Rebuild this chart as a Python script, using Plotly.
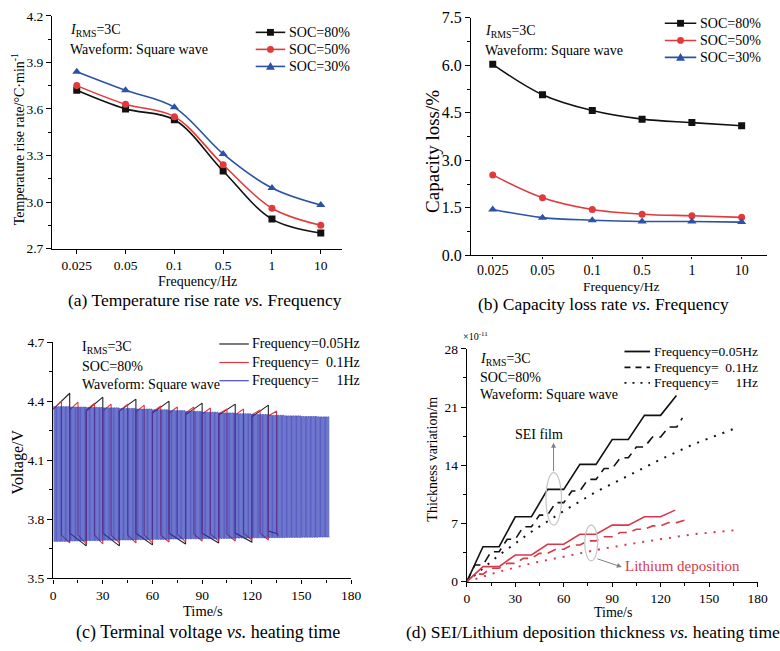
import plotly.graph_objects as go

W, H = 780, 651
FONT = "Liberation Serif, Times New Roman, serif"
BLACK = "#111111"
RED = "#e03a3a"
BLUE = "#2b52a6"
RED_D = "#d8394a"

# ---------------- Panel (a) / (b) data ----------------
freq_labels = ["0.025", "0.05", "0.1", "0.5", "1", "10"]
temp_soc80 = [3.72, 3.60, 3.53, 3.20, 2.89, 2.80]
temp_soc50 = [3.75, 3.63, 3.55, 3.24, 2.96, 2.85]
temp_soc30 = [3.84, 3.72, 3.61, 3.31, 3.09, 2.98]

cap_soc80 = [6.03, 5.07, 4.57, 4.30, 4.19, 4.09]
cap_soc50 = [2.54, 1.82, 1.45, 1.30, 1.25, 1.20]
cap_soc30 = [1.45, 1.19, 1.11, 1.07, 1.07, 1.05]

# ---------------- Panel (c) data (square-wave voltage response) ----------------
# 0.05 Hz: per 20 s cycle -> charge start, charge peak, discharge start, discharge end
v005_charge_start = [4.36, 4.35, 4.35, 4.34, 4.33, 4.33, 4.32]
v005_charge_peak = [4.44, 4.42, 4.41, 4.40, 4.39, 4.385, 4.38]
v005_dis_start = [3.73, 3.73, 3.73, 3.73, 3.73, 3.73, 3.74]
v005_dis_end = [3.665, 3.665, 3.67, 3.675, 3.68, 3.685, 3.725]
v005_period, v005_end = 20, 136
# 0.1 Hz: per 10 s cycle
v01_charge_start = [4.36, 4.355, 4.355, 4.35, 4.35, 4.345, 4.345, 4.34, 4.34, 4.335, 4.335, 4.33, 4.33, 4.325]
v01_charge_peak = [4.40, 4.395, 4.39, 4.385, 4.385, 4.38, 4.375, 4.37, 4.37, 4.365, 4.36, 4.36, 4.355, 4.35]
v01_dis_start = [3.72, 3.72, 3.72, 3.72, 3.72, 3.72, 3.72, 3.725, 3.725, 3.725, 3.725, 3.73, 3.73, 3.73]
v01_dis_end = [3.68, 3.675, 3.675, 3.68, 3.68, 3.68, 3.685, 3.685, 3.69, 3.69, 3.69, 3.695, 3.695, 3.715]
v01_period, v01_end = 10, 136
# 1 Hz: upper / lower voltage levels read per 10 s block
v1_top_blocks = [4.372, 4.370, 4.368, 4.366, 4.363, 4.360, 4.356, 4.352, 4.348,
                 4.344, 4.340, 4.336, 4.332, 4.328, 4.325, 4.322, 4.320]
v1_bot_blocks = [3.688, 3.690, 3.692, 3.694, 3.695, 3.697, 3.698, 3.700, 3.701,
                 3.702, 3.703, 3.705, 3.706, 3.707, 3.708, 3.709, 3.710]
v1_end = 167

# ---------------- Panel (d) data (x1e-11 m) ----------------
sei_005_t = [0, 10, 20, 30, 40, 50, 60, 70, 80, 90, 100, 110, 120, 129.8]
sei_005_v = [0, 4.2, 4.2, 7.8, 7.8, 11.1, 11.1, 14.1, 14.1, 17.1, 17.1, 20.0, 20.0, 22.4]
sei_01_t = [0, 5, 10, 15, 20, 25, 30, 35, 40, 45, 50, 55, 60, 65, 70, 75, 80, 85, 90,
            95, 100, 105, 110, 115, 120, 125, 130, 133.5]
sei_01_v = [0, 2.0, 2.0, 3.6, 3.6, 5.1, 5.1, 6.6, 6.6, 8.0, 8.0, 9.5, 9.5, 10.9, 10.9,
            12.3, 12.3, 13.6, 13.6, 14.9, 14.9, 16.2, 16.2, 17.4, 17.4, 18.6, 18.6, 19.7]
sei_1_t = [0, 20, 40, 60, 80, 100, 120, 140, 167]
sei_1_v = [0, 3.2, 6.0, 8.5, 10.8, 12.8, 14.7, 16.5, 18.5]

li_005_t = [0, 10, 20, 30, 40, 50, 60, 70, 80, 90, 100, 110, 120, 129]
li_005_v = [0, 1.8, 1.8, 3.2, 3.2, 4.5, 4.5, 5.7, 5.7, 6.8, 6.8, 7.8, 7.8, 8.6]
li_01_t = [0, 5, 10, 15, 20, 25, 30, 35, 40, 45, 50, 55, 60, 65, 70, 75, 80, 85, 90,
           95, 100, 105, 110, 115, 120, 125, 130, 135]
li_01_v = [0, 0.9, 0.9, 1.6, 1.6, 2.2, 2.2, 2.8, 2.8, 3.4, 3.4, 3.9, 3.9, 4.4, 4.4,
           4.9, 4.9, 5.4, 5.4, 5.9, 5.9, 6.3, 6.3, 6.7, 6.7, 7.1, 7.1, 7.4]
li_1_t = [0, 20, 40, 60, 80, 100, 120, 140, 167]
li_1_v = [0, 1.2, 2.2, 3.0, 3.8, 4.5, 5.1, 5.7, 6.2]


def square_wave(period, cs, cp, ds, de, t_end):
    xs, ys = [], []
    half = period / 2
    for k in range(len(cs)):
        t0 = k * period
        xs += [t0, t0 + half, t0 + half, min(t0 + period, t_end)]
        ys += [cs[k], cp[k], ds[k], de[k]]
    return xs, ys


def block_wave(top, bot, t_end):
    xs, ys = [], []
    for c in range(t_end):
        b = c // 10
        xs += [c, c + 0.5, c + 0.5, c + 1]
        ys += [top[b], top[b], bot[b], bot[b]]
    return xs, ys


fig = go.Figure()

# (a)
idx = list(range(len(freq_labels)))
for vals, col, sym, sz in [(temp_soc80, BLACK, "square", 7), (temp_soc50, RED, "circle", 7),
                           (temp_soc30, BLUE, "triangle-up", 8)]:
    fig.add_trace(go.Scatter(x=idx, y=vals, mode="lines+markers", xaxis="x", yaxis="y",
                             line=dict(color=col, width=1.6, shape="spline", smoothing=1.0),
                             marker=dict(symbol=sym, size=sz, color=col), showlegend=False))
# (b)
for vals, col, sym, sz in [(cap_soc80, BLACK, "square", 7), (cap_soc50, RED, "circle", 7),
                           (cap_soc30, BLUE, "triangle-up", 8)]:
    fig.add_trace(go.Scatter(x=idx, y=vals, mode="lines+markers", xaxis="x2", yaxis="y2",
                             line=dict(color=col, width=1.6, shape="spline", smoothing=1.0),
                             marker=dict(symbol=sym, size=sz, color=col), showlegend=False))
# (c)
bx, by = square_wave(v005_period, v005_charge_start, v005_charge_peak, v005_dis_start, v005_dis_end, v005_end)
rx, ry = square_wave(v01_period, v01_charge_start, v01_charge_peak, v01_dis_start, v01_dis_end, v01_end)
ux, uy = block_wave(v1_top_blocks, v1_bot_blocks, v1_end)
fig.add_trace(go.Scatter(x=bx, y=by, mode="lines", xaxis="x3", yaxis="y3",
                         line=dict(color="#222222", width=1.1), showlegend=False))
fig.add_trace(go.Scatter(x=rx, y=ry, mode="lines", xaxis="x3", yaxis="y3",
                         line=dict(color="#e0383c", width=1.1), showlegend=False))
fig.add_trace(go.Scatter(x=ux, y=uy, mode="lines", xaxis="x3", yaxis="y3", opacity=0.85,
                         line=dict(color="rgb(40,52,180)", width=0.9), showlegend=False))
# (d)
for t, v, col, dash, wd in [(sei_005_t, sei_005_v, BLACK, "solid", 1.6),
                            (sei_01_t, sei_01_v, BLACK, "9px,6px", 1.6),
                            (sei_1_t, sei_1_v, BLACK, "2px,7px", 2.0),
                            (li_005_t, li_005_v, RED_D, "solid", 1.6),
                            (li_01_t, li_01_v, RED_D, "9px,6px", 1.6),
                            (li_1_t, li_1_v, RED_D, "2px,7px", 2.0)]:
    fig.add_trace(go.Scatter(x=t, y=v, mode="lines", xaxis="x4", yaxis="y4",
                             line=dict(color=col, width=wd, dash=dash), showlegend=False))


def dom_x(a, b):
    return [a / W, b / W]


def dom_y(top, bottom):
    return [1 - bottom / H, 1 - top / H]


def mk_axis(domain, rng, anchor, tickvals=None, ticktext=None, dtick=None, tick0=None,
            minor_dtick=None, fmt=None, fsize=13, ticklen=5):
    ax = dict(domain=domain, range=rng, anchor=anchor, showline=True, linecolor="black",
              linewidth=1.3, ticks="outside", ticklen=ticklen, tickwidth=1.2, tickcolor="black",
              showgrid=False, zeroline=False, fixedrange=True,
              tickfont=dict(family=FONT, size=fsize, color="black"))
    if tickvals is not None:
        ax.update(tickmode="array", tickvals=tickvals, ticktext=ticktext)
    else:
        ax.update(tickmode="linear", tick0=tick0, dtick=dtick)
    if fmt:
        ax["tickformat"] = fmt
    if minor_dtick:
        ax["minor"] = dict(ticks="outside", ticklen=3, tickwidth=1, tickcolor="black",
                           dtick=minor_dtick, tick0=tick0, showgrid=False)
    return ax


layout = dict(
    width=W, height=H, margin=dict(l=0, r=0, t=0, b=0),
    paper_bgcolor="white", plot_bgcolor="white", showlegend=False,
    font=dict(family=FONT, color="black"),
    xaxis=mk_axis(dom_x(50, 345), [-0.504, 5.44], "y", tickvals=idx, ticktext=freq_labels, fsize=13.5, ticklen=4),
    yaxis=mk_axis(dom_y(8, 247), [2.7, 4.2], "x", dtick=0.3, tick0=2.7, minor_dtick=0.15, fmt=".1f", fsize=13.5),
    xaxis2=mk_axis(dom_x(476, 777), [-0.435, 5.51], "y2", tickvals=idx, ticktext=freq_labels, fsize=14, ticklen=2),
    yaxis2=mk_axis(dom_y(10, 254), [0, 7.5], "x2", dtick=1.5, tick0=0, minor_dtick=0.75, fmt=".1f", fsize=16),
    xaxis3=mk_axis(dom_x(51, 354), [0, 180], "y3", dtick=30, tick0=0, minor_dtick=15, fsize=13.5, ticklen=4),
    yaxis3=mk_axis(dom_y(343, 585.7), [3.5, 4.7], "x3", dtick=0.3, tick0=3.5, minor_dtick=0.15, fmt=".1f", fsize=13.5),
    xaxis4=mk_axis(dom_x(471.7, 767.3), [0, 180], "y4", dtick=30, tick0=0, minor_dtick=15, fsize=13.5, ticklen=4),
    yaxis4=mk_axis(dom_y(350, 589), [0, 28], "x4", dtick=7, tick0=0, minor_dtick=3.5, fsize=13.5),
)

shapes = []
annotations = []


def px(x, y):
    return x / W, 1 - y / H


def text_px(x, y, text, size=14, xanchor="left", color="black", angle=0):
    X, Y = px(x, y)
    annotations.append(dict(xref="paper", yref="paper", x=X, y=Y, text=text, showarrow=False,
                            xanchor=xanchor, yanchor="middle", textangle=angle, align="left",
                            font=dict(family=FONT, size=size, color=color)))


def legend_entry(x0, x1, y, color, text, dash="solid", marker=None, size=14, width=1.6):
    X0, Y = px(x0, y)
    X1, _ = px(x1, y)
    shapes.append(dict(type="line", xref="paper", yref="paper", x0=X0, x1=X1, y0=Y, y1=Y,
                       line=dict(color=color, width=width, dash=dash)))
    cx = (x0 + x1) / 2
    if marker == "square":
        a, b = px(cx - 3.5, y + 3.5)
        c, d = px(cx + 3.5, y - 3.5)
        shapes.append(dict(type="rect", xref="paper", yref="paper", x0=a, y0=b, x1=c, y1=d,
                           fillcolor=color, line=dict(width=0)))
    elif marker == "circle":
        a, b = px(cx - 3.5, y + 3.5)
        c, d = px(cx + 3.5, y - 3.5)
        shapes.append(dict(type="circle", xref="paper", yref="paper", x0=a, y0=b, x1=c, y1=d,
                           fillcolor=color, line=dict(width=0)))
    elif marker == "triangle":
        p1 = px(cx, y - 4.5)
        p2 = px(cx + 4.5, y + 3.5)
        p3 = px(cx - 4.5, y + 3.5)
        shapes.append(dict(type="path", xref="paper", yref="paper",
                           path=f"M {p1[0]},{p1[1]} L {p2[0]},{p2[1]} L {p3[0]},{p3[1]} Z",
                           fillcolor=color, line=dict(width=0)))
    text_px(x1 + 1.5, y, text, size=size)


NB = "\u00a0"
soc_names = ["SOC=80%", "SOC=50%", "SOC=30%"]
freq_names = ["Frequency=0.05Hz", "Frequency=" + NB * 2 + "0.1Hz", "Frequency=" + NB * 5 + "1Hz"]

# (a) legend + text
for yy, col, mk, nm in zip([25, 42.5, 60], [BLACK, RED, BLUE], ["square", "circle", "triangle"], soc_names):
    legend_entry(257, 287, yy, col, nm, marker=mk)
text_px(66.5, 23.5, "<i>I</i><sub>RMS</sub>=3C", 14)
text_px(66.5, 43, "Waveform: Square wave", 14)
text_px(198, 281, "Frequency/Hz", 14, xanchor="center")
text_px(16, 135, "Temperature rise rate/°C·min<sup>-1</sup>", 14, xanchor="center", angle=-90)
text_px(205, 300, "(a) Temperature rise rate <i>vs.</i> Frequency", 17.5, xanchor="center")

# (b) legend + text
for yy, col, mk, nm in zip([15.7, 33.3, 50.7], [BLACK, RED, BLUE], ["square", "circle", "triangle"], soc_names):
    legend_entry(673, 705, yy, col, nm, marker=mk)
text_px(488, 24, "<i>I</i><sub>RMS</sub>=3C", 14)
text_px(488, 43.5, "Waveform: Square wave", 14)
text_px(628, 285.5, "Frequency/Hz", 13.5, xanchor="center")
text_px(611, 304, "(b) Capacity loss rate <i>vs.</i> Frequency", 17.5, xanchor="center")
text_px(436, 147, "Capacity loss/%", 19, xanchor="center", angle=-90)

# (c) legend + text
for yy, col, nm in zip([345, 364, 382.7], ["#222222", "#e0383c", "rgb(70,80,195)"], freq_names):
    legend_entry(220, 250, yy, col, nm, width=1.2)
text_px(78, 349, "I<sub>RMS</sub>=3C", 14)
text_px(78, 368.5, "SOC=80%", 14)
text_px(78, 387, "Waveform: Square wave", 14)
text_px(203, 619, "Time/s", 14.5, xanchor="center")
text_px(15, 466, "Voltage/V", 16, xanchor="center", angle=-90)
text_px(208, 641, "(c) Terminal voltage <i>vs.</i> heating time", 18, xanchor="center")

# (d) legend + text
for yy, dash, nm in zip([352.7, 369, 385], ["solid", "6px,5px", "2px,6px"], freq_names):
    legend_entry(632, 658, yy, BLACK, nm, dash=dash, size=13.5, width=1.8)
text_px(483, 361, "<i>I</i><sub>RMS</sub>=3C", 14)
text_px(483, 379, "SOC=80%", 14)
text_px(483, 396.5, "Waveform: Square wave", 14)
text_px(620, 621, "Time/s", 14, xanchor="center")
text_px(437, 463, "Thickness variation/m", 14, xanchor="center", angle=-90)
text_px(466, 337, "×10<sup>-11</sup>", 10)
text_px(408, 641, "(d) SEI/Lithium deposition thickness <i>vs.</i> heating time", 17.5)

# (d) ellipses, arrows, labels in data coordinates
shapes.append(dict(type="circle", xref="x4", yref="y4", x0=49, x1=58.6, y0=6.8, y1=13.1,
                   line=dict(color="#c4c4c4", width=1.2)))
shapes.append(dict(type="circle", xref="x4", yref="y4", x0=73, x1=81, y0=2.5, y1=6.8,
                   line=dict(color="#c4c4c4", width=1.2)))
annotations.append(dict(xref="x4", yref="y4", axref="x4", ayref="y4", x=53.7, y=16.7,
                        ax=53.7, ay=13.1, text="", showarrow=True, arrowhead=2, arrowsize=1,
                        arrowwidth=1, arrowcolor="#808080"))
annotations.append(dict(xref="x4", yref="y4", axref="x4", ayref="y4", x=96, y=1.75,
                        ax=80, ay=2.8, text="", showarrow=True, arrowhead=2, arrowsize=1,
                        arrowwidth=1, arrowcolor="#808080"))
annotations.append(dict(xref="x4", yref="y4", x=44.6, y=17.7, text="SEI film", showarrow=False,
                        xanchor="center", yanchor="middle", font=dict(family=FONT, size=14, color="black")))
annotations.append(dict(xref="x4", yref="y4", x=97, y=1.85, text="Lithium deposition", showarrow=False,
                        xanchor="left", yanchor="middle", font=dict(family=FONT, size=15, color=RED_D)))

layout["shapes"] = shapes
layout["annotations"] = annotations
fig.update_layout(**layout)
fig.write_html("out.html")
